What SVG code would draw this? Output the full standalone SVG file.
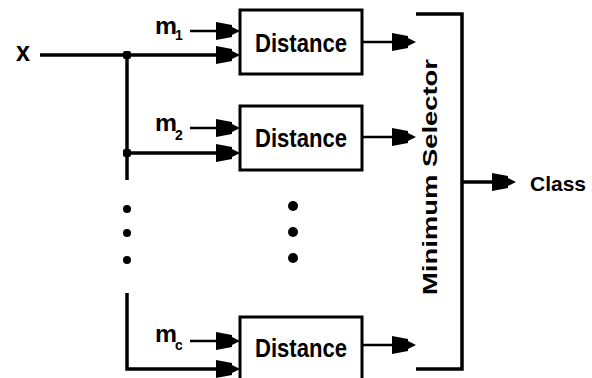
<svg xmlns="http://www.w3.org/2000/svg" width="592" height="378" viewBox="0 0 592 378">
<style>
.box{fill:#fff;stroke:#000;stroke-width:3}
.w{fill:none;stroke:#000;stroke-width:3.5}
.t{fill:none;stroke:#000;stroke-width:2.5}
.lbl{font-family:"Liberation Sans",Arial,sans-serif;font-weight:bold;fill:#000}
</style>
<defs>
<path id="ah" d="M0,0 L-8,-4 L-8,-6 L-24,-9 L-24,9 L-8,6 L-8,4 Z" fill="#000"/>
</defs>
<rect width="592" height="378" fill="#fff"/>
<g id="connectors">
<path class="w" d="M40,55 H222 M127,55 V180 M127,153 H222 M127,293 V369 H222"/>
<path class="t" d="M190,31 H222 M190,128 H222 M190,341 H222"/>
<path class="t" d="M362,42 H398 M362,137 H398 M362,345 H398"/>
<path class="w" d="M462,182 H498"/>
<use href="#ah" x="240" y="55"/>
<use href="#ah" x="240" y="31"/>
<use href="#ah" x="240" y="153"/>
<use href="#ah" x="240" y="128"/>
<use href="#ah" x="240" y="369"/>
<use href="#ah" x="240" y="341"/>
<use href="#ah" x="416" y="42"/>
<use href="#ah" x="416" y="137"/>
<use href="#ah" x="416" y="345"/>
<use href="#ah" x="516" y="182"/>
<rect x="123" y="51" width="8" height="8" rx="2"/>
<rect x="123" y="149" width="8" height="8" rx="2"/>
</g>
<g id="x"><text class="lbl" x="23" y="61" font-size="28" text-anchor="middle" textLength="14" lengthAdjust="spacingAndGlyphs">x</text></g>
<g id="m1"><text class="lbl" x="155" y="34" font-size="24" textLength="22" lengthAdjust="spacingAndGlyphs">m</text><text class="lbl" x="175" y="40" font-size="14">1</text></g>
<g id="m2"><text class="lbl" x="155" y="131" font-size="24" textLength="22" lengthAdjust="spacingAndGlyphs">m</text><text class="lbl" x="175" y="140" font-size="14">2</text></g>
<g id="mc"><text class="lbl" x="155" y="342" font-size="24" textLength="22" lengthAdjust="spacingAndGlyphs">m</text><text class="lbl" x="175" y="350" font-size="14">c</text></g>
<g id="dist1"><rect class="box" x="240" y="10" width="122" height="64"/><text class="lbl" x="301" y="52" font-size="26" text-anchor="middle" textLength="92" lengthAdjust="spacingAndGlyphs">Distance</text></g>
<g id="dist2"><rect class="box" x="240" y="106" width="122" height="64"/><text class="lbl" x="301" y="147" font-size="26" text-anchor="middle" textLength="92" lengthAdjust="spacingAndGlyphs">Distance</text></g>
<g id="distc"><rect class="box" x="240" y="317" width="122" height="64"/><text class="lbl" x="301" y="357" font-size="26" text-anchor="middle" textLength="92" lengthAdjust="spacingAndGlyphs">Distance</text></g>
<g id="dots">
<circle cx="127" cy="209" r="4"/><circle cx="127" cy="233" r="4"/><circle cx="127" cy="260" r="4"/>
<circle cx="293" cy="206" r="5"/><circle cx="293" cy="232" r="5"/><circle cx="293" cy="258" r="5"/>
</g>
<g id="selector">
<path class="w" d="M416,14 H462 V369 H416"/>
<text class="lbl" transform="translate(437,177) rotate(-90)" x="0" y="0" font-size="21" text-anchor="middle" textLength="236" lengthAdjust="spacingAndGlyphs">Minimum Selector</text>
</g>
<g id="class"><text class="lbl" x="530" y="191" font-size="21">Class</text></g>
</svg>
